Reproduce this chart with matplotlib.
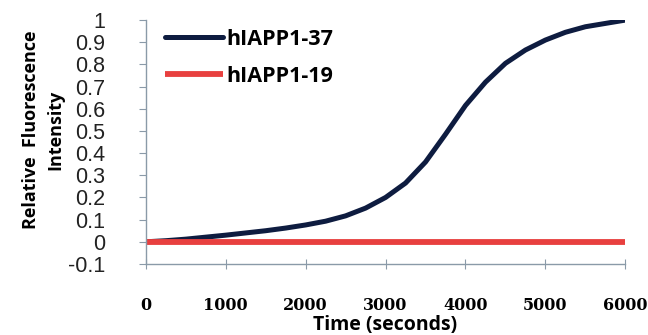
import matplotlib.pyplot as plt
import numpy as np

# data
time_s = [0, 250, 500, 750, 1000, 1250, 1500, 1750, 2000, 2250, 2500, 2750,
          3000, 3250, 3500, 3750, 4000, 4250, 4500, 4750, 5000, 5250, 5500,
          5750, 6000]
iapp_37 = [0.0, 0.005, 0.012, 0.021, 0.03, 0.04, 0.05, 0.062, 0.076, 0.093,
           0.117, 0.152, 0.2, 0.265, 0.36, 0.485, 0.615, 0.72, 0.805, 0.865,
           0.91, 0.945, 0.97, 0.985, 1.0]
iapp_19 = [0.0] * len(time_s)

x_ticks = [0, 1000, 2000, 3000, 4000, 5000, 6000]
y_ticks = [-0.1, 0, 0.1, 0.2, 0.3, 0.4, 0.5, 0.6, 0.7, 0.8, 0.9, 1]

axis_color = '#8a9aa8'

fig = plt.figure(figsize=(6.48, 3.35), dpi=100)
ax = fig.add_axes([0.225, 0.212, 0.74, 0.728])

ax.plot(time_s, iapp_37, color='#0e1c40', linewidth=3.6, label='hIAPP1-37',
        solid_capstyle='round', solid_joinstyle='round')
ax.plot(time_s, iapp_19, color='#e8403f', linewidth=4.2, label='hIAPP1-19',
        solid_capstyle='butt')

ax.set_xlim(0, 6000)
ax.set_ylim(-0.1, 1.0)
ax.set_xticks(x_ticks)
ax.set_xticklabels([str(t) for t in x_ticks], family='DejaVu Serif',
                   fontweight='bold', fontsize=11.5)
ax.set_yticks(y_ticks)
ax.set_yticklabels(['-0.1', '0', '0.1', '0.2', '0.3', '0.4', '0.5', '0.6',
                    '0.7', '0.8', '0.9', '1'], family='Liberation Sans',
                   fontsize=15.5, color='#222222')

for side in ['top', 'right']:
    ax.spines[side].set_visible(False)
for side in ['left', 'bottom']:
    ax.spines[side].set_color(axis_color)
    ax.spines[side].set_linewidth(1.0)

ax.tick_params(axis='y', direction='out', length=5, color=axis_color, pad=24)
ax.tick_params(axis='x', direction='inout', length=7, color=axis_color, pad=20)

ax.set_xlabel('Time (seconds)', family='Open Sans', fontweight='bold',
              fontsize=14, labelpad=1)
fig.text(43 / 648, 1 - 130 / 335, 'Relative  Fluorescence\nIntensity',
         family='Open Sans', fontweight='bold', fontsize=13, rotation=90,
         ha='center', va='center', multialignment='center', linespacing=1.45)

ax.legend(loc='upper left', bbox_to_anchor=(0.0, 1.045), frameon=False,
          handlelength=2.7, handletextpad=0.15, labelspacing=0.75,
          prop={'family': 'Open Sans', 'weight': 'bold', 'size': 15.5})

plt.savefig('out.png', dpi=100)
